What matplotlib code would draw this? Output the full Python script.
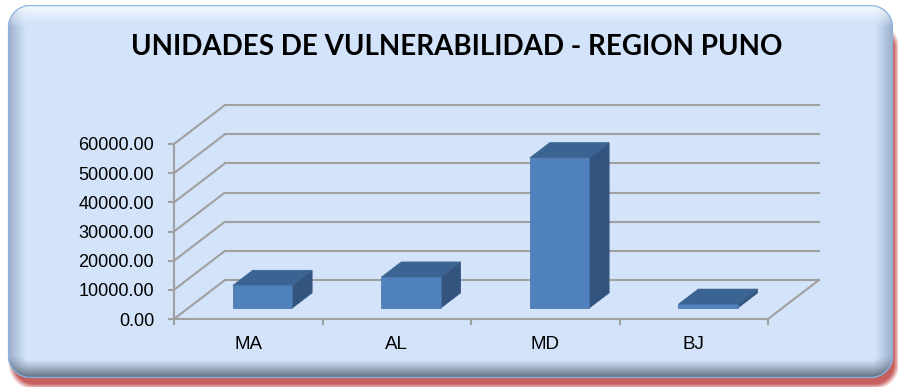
import numpy as np
import matplotlib
matplotlib.use("Agg")
import matplotlib.pyplot as plt
from matplotlib.patches import Polygon, Rectangle

# data
categories = ["MA", "AL", "MD", "BJ"]
values = [7750, 10600, 51500, 1300]
y_ticks = [0, 10000, 20000, 30000, 40000, 50000, 60000]
title = "UNIDADES DE VULNERABILIDAD - REGION PUNO"

W, H = 898, 387
fig = plt.figure(figsize=(W / 100, H / 100), dpi=100)

# ---- chart frame: rounded panel with bevel and red drop shadow ----
yy, xx = np.mgrid[0:H, 0:W] + 0.5


def rrect_sdf(x0, y0, x1, y1, r):
    cx, cy = (x0 + x1) / 2, (y0 + y1) / 2
    hx, hy = (x1 - x0) / 2 - r, (y1 - y0) / 2 - r
    qx = np.abs(xx - cx) - hx
    qy = np.abs(yy - cy) - hy
    outside = np.hypot(np.maximum(qx, 0), np.maximum(qy, 0))
    inside = np.minimum(np.maximum(qx, qy), 0)
    return outside + inside - r


img = np.ones((H, W, 3))

# shadow
sdf_s = rrect_sdf(10, 24, 898, 388, 24)
a_s = np.clip(0.3 - sdf_s / 6.0, 0, 1)[..., None] * 0.9
red = np.array([0.76, 0.31, 0.30])
img = img * (1 - a_s) + red * a_s

# panel with bevel
sdf_f = rrect_sdf(8, 5, 893, 378, 22)
gy, gx = np.gradient(sdf_f)
norm = np.hypot(gx, gy) + 1e-9
ny = gy / norm
light = -ny  # top edge lit, bottom edge shaded
c_in = np.array([0.824, 0.894, 0.984])
c_mid = np.array([0.60, 0.67, 0.78])
c_hi = np.array([0.97, 0.985, 1.0])
c_lo = np.array([0.36, 0.41, 0.48])
lp = np.clip(light, 0, 1)[..., None]
ln = np.clip(-light, 0, 1)[..., None]
side = c_mid * (1 - lp - ln) + c_hi * lp + c_lo * ln
depth = -sdf_f
bevel_w = 18.0
t = np.clip(1 - depth / bevel_w, 0, 1) ** 1.1
t = t[..., None]
panel = c_in * (1 - t) + side * t
a_f = np.clip(0.5 - sdf_f, 0, 1)[..., None]
img = img * (1 - a_f) + panel * a_f

# thin blue outline
a_o = np.clip(1.2 - np.abs(sdf_f + 0.6), 0, 1)[..., None] * 0.9
blue = np.array([0.55, 0.71, 0.89])
img = img * (1 - a_o) + blue * a_o

ax_bg = fig.add_axes([0, 0, 1, 1])
ax_bg.imshow(img, extent=(0, W, H, 0), interpolation="bilinear")
ax_bg.set_xlim(0, W)
ax_bg.set_ylim(H, 0)
ax_bg.axis("off")

# ---- 3D-style column chart ----
ax_left, ax_right = 174, 768
ax_bottom, ax_top = 319, 144
ax = fig.add_axes([ax_left / W, (H - ax_bottom) / H,
                   (ax_right - ax_left) / W, (ax_bottom - ax_top) / H])
ax.set_facecolor("none")
ymax = 60000
ax.set_xlim(0, len(categories))
ax.set_ylim(0, ymax)

px_per_cat = (ax_right - ax_left) / len(categories)
px_per_val = (ax_bottom - ax_top) / ymax
depth_dx = 51 / px_per_cat   # wall depth, in category units
depth_dy = 39 / px_per_val   # wall depth, in value units

grid_c = "#a0a0a0"
glw = 1.5

# back wall gridlines and side wall diagonals
for v in y_ticks:
    ax.plot([0, depth_dx], [v, v + depth_dy], color=grid_c, lw=glw,
            clip_on=False, zorder=1, solid_capstyle="butt")
    ax.plot([depth_dx, len(categories) + depth_dx], [v + depth_dy, v + depth_dy],
            color=grid_c, lw=glw, clip_on=False, zorder=1)
# floor right edge
ax.plot([len(categories), len(categories) + depth_dx], [0, depth_dy],
        color=grid_c, lw=glw, clip_on=False, zorder=1)

# columns
f0, f1 = 0.28, 0.67
bw = 0.40
front_c, top_c, side_c = "#4f81bd", "#3c6492", "#32547e"
for i, v in enumerate(values):
    x0 = i + 0.5 - bw / 2 + f0 * depth_dx
    x1 = x0 + bw
    y0 = f0 * depth_dy
    y1 = y0 + v
    ddx = (f1 - f0) * depth_dx
    ddy = (f1 - f0) * depth_dy
    ax.add_patch(Polygon([(x1, y0), (x1 + ddx, y0 + ddy), (x1 + ddx, y1 + ddy), (x1, y1)],
                         closed=True, facecolor=side_c, edgecolor=side_c, lw=0.5,
                         clip_on=False, zorder=3))
    ax.add_patch(Polygon([(x0, y1), (x1, y1), (x1 + ddx, y1 + ddy), (x0 + ddx, y1 + ddy)],
                         closed=True, facecolor=top_c, edgecolor=top_c, lw=0.5,
                         clip_on=False, zorder=3))
    ax.add_patch(Rectangle((x0, y0), bw, v, facecolor=front_c, edgecolor="#456fa3",
                           lw=0.5, clip_on=False, zorder=4))

# axes, ticks and labels
for s in ["top", "right"]:
    ax.spines[s].set_visible(False)
ax.spines["left"].set_color(grid_c)
ax.spines["bottom"].set_color(grid_c)
ax.spines["left"].set_linewidth(glw)
ax.spines["bottom"].set_linewidth(glw)

label_font = ["Liberation Sans", "DejaVu Sans"]
ax.set_yticks(y_ticks)
ax.set_yticklabels([f"{v:.2f}" for v in y_ticks], family=label_font, fontsize=13)
ax.tick_params(axis="y", direction="out", length=4.3, width=glw, color=grid_c, pad=10)

ax.set_xticks(range(len(categories) + 1))
ax.set_xticklabels([])
ax.tick_params(axis="x", which="major", direction="out", length=4.3, width=glw, color=grid_c)
ax.set_xticks([i + 0.5 for i in range(len(categories))], minor=True)
ax.set_xticklabels(categories, minor=True, family=label_font, fontsize=13.5)
ax.tick_params(axis="x", which="minor", length=0, pad=12)

fig.text(457 / W, 1 - 47 / H, title, ha="center", va="center",
         fontsize=20, fontweight="bold", family=["Lato", "DejaVu Sans"])

fig.savefig("out.png", dpi=100)
